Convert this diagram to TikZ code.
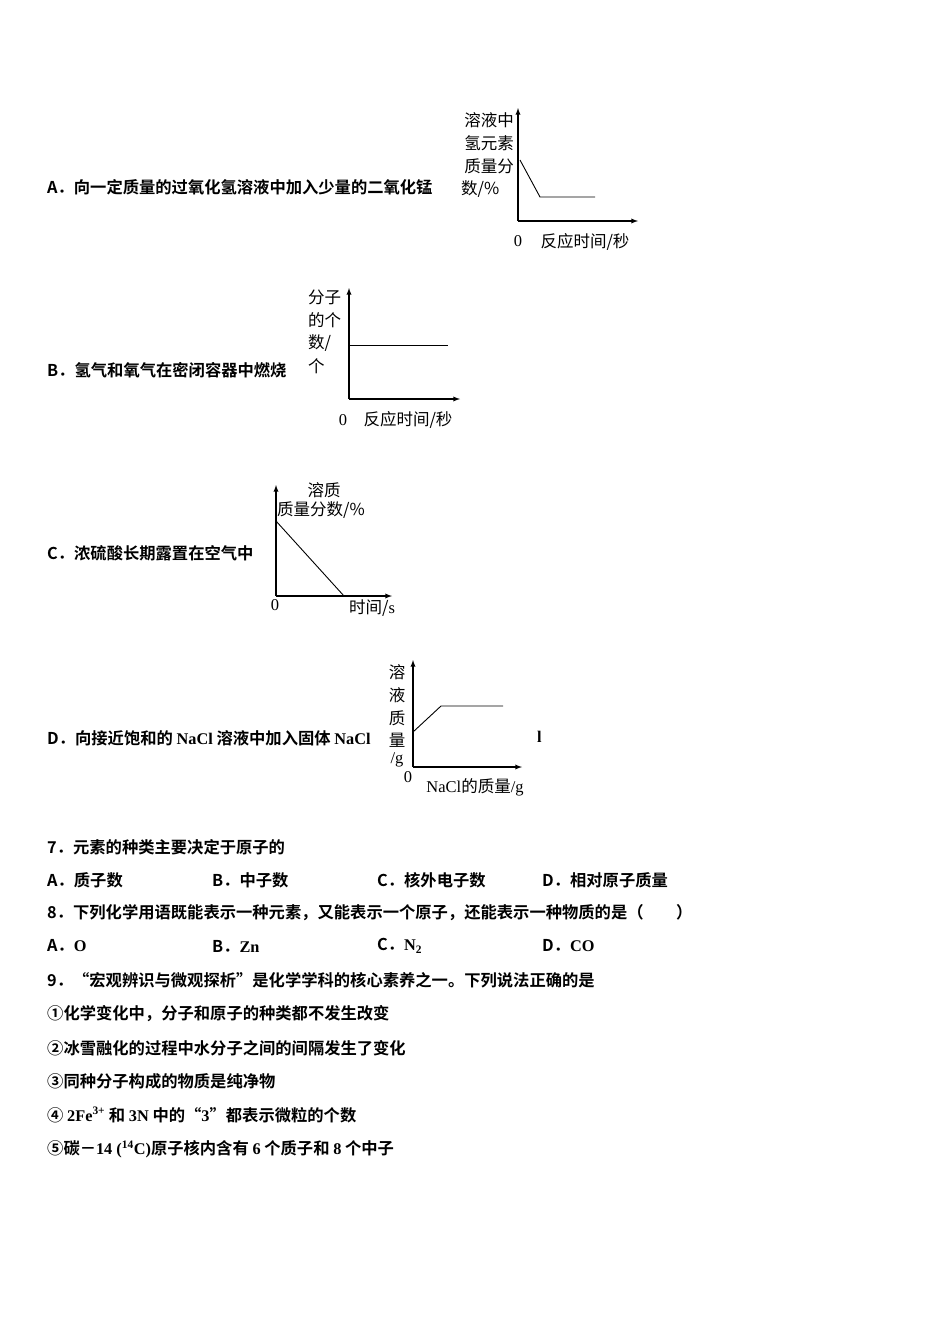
\documentclass[tikz,border=0pt]{standalone}
\usepackage{fontspec}
\setmainfont{Noto Sans CJK SC}[BoldFont=* Bold]
\newfontfamily\lat{Liberation Serif}
\begin{document}
\begin{tikzpicture}[x=1pt,y=-1pt,
  q/.style={anchor=west,inner sep=0pt,font=\fontsize{16.3}{16}\selectfont\bfseries},
  gl/.style={inner sep=0pt,font=\fontsize{16.5}{16}\selectfont},
  ax/.style={line width=1.3pt,-latex},
  cv/.style={line width=0.9pt}]
\useasboundingbox (0,0) rectangle (950,1344);
% A
\node[q] (qa) at (47,187) {A．向一定质量的过氧化氢溶液中加入少量的二氧化锰};
\coordinate (ao) at (518,221);
\draw[ax] (ao) -- (518,108); \draw[ax] (ao) -- (638,221);
\draw[cv] (520,160) -- (540,197) -- (595,197);
\node[gl,anchor=east] at (514,120) {溶液中};
\node[gl,anchor=east] at (514,143) {氢元素};
\node[gl,anchor=east] at (514,166) {质量分};
\node[gl,anchor=west] at (461,189) {数/\%};
\node[gl] at (518,241) {\lat 0};
\node[gl] at (585,242) {反应时间/秒};
% B
\node[q] (qb) at (47,370) {B．氢气和氧气在密闭容器中燃烧};
\draw[ax] (349,399) -- (349,288); \draw[ax] (349,399) -- (460,399);
\draw[cv] (349,345) -- (448,345);
\node[gl,anchor=west] at (308,297) {分子};
\node[gl,anchor=west] at (308,320) {的个};
\node[gl,anchor=west] at (308,343) {数/};
\node[gl,anchor=west] at (308,366) {个};
\node[gl] at (343,420) {\lat 0};
\node[gl] at (408,420) {反应时间/秒};
% C
\node[q] (qc) at (47,553) {C．浓硫酸长期露置在空气中};
\draw[ax] (276,596) -- (276,485); \draw[ax] (276,596) -- (392,596);
\draw[cv] (276,521) -- (344,596);
\node[gl] at (324,490) {溶质};
\node[gl] at (321,510) {质量分数/\%};
\node[gl] at (275,605) {\lat 0};
\node[gl] at (372,608) {时间/{\lat s}};
% D
\node[q] (qd) at (47,738) {D．向接近饱和的 {\lat\bfseries NaCl} 溶液中加入固体 {\lat\bfseries NaCl}};
\node[q] at (537,737) {\lat\bfseries l};
\draw[ax] (413,767) -- (413,660); \draw[ax] (413,767) -- (522,767);
\draw[cv] (413,732) -- (441,706) -- (503,706);
\node[gl] at (397,672) {溶};
\node[gl] at (397,695) {液};
\node[gl] at (397,718) {质};
\node[gl] at (397,740) {量};
\node[gl] at (397,760) {\lat /g};
\node[gl] at (408,777) {\lat 0};
\node[gl] at (475,787) {{\lat NaCl}的质量{\lat /g}};
% questions
\node[q] at (47,847) {7．元素的种类主要决定于原子的};
\node[q] at (47,880) {A．质子数};
\node[q] at (212,880) {B．中子数};
\node[q] at (377,880) {C．核外电子数};
\node[q] at (542,880) {D．相对原子质量};
\node[q] at (47,913) {8．下列化学用语既能表示一种元素，又能表示一个原子，还能表示一种物质的是（\hspace{2em}）};
\node[q] at (47,946) {A．{\lat\bfseries O}};
\node[q] at (212,946) {B．{\lat\bfseries Zn}};
\node[q] at (377,946) {C．{\lat\bfseries N\textsubscript{2}}};
\node[q] at (542,946) {D．{\lat\bfseries CO}};
\node[q] at (47,980) {9．“宏观辨识与微观探析”是化学学科的核心素养之一。下列说法正确的是};
\node[q] at (47,1014) {①化学变化中，分子和原子的种类都不发生改变};
\node[q] at (47,1048) {②冰雪融化的过程中水分子之间的间隔发生了变化};
\node[q] at (47,1081) {③同种分子构成的物质是纯净物};
\node[q] at (47,1115) {④ {\lat\bfseries 2Fe\textsuperscript{3+}} 和 {\lat\bfseries 3N} 中的“{\lat\bfseries 3}”都表示微粒的个数};
\node[q] at (47,1149) {⑤碳－{\lat\bfseries 14 (\textsuperscript{14}C)}原子核内含有 {\lat\bfseries 6} 个质子和 {\lat\bfseries 8} 个中子};
\end{tikzpicture}
\end{document}
